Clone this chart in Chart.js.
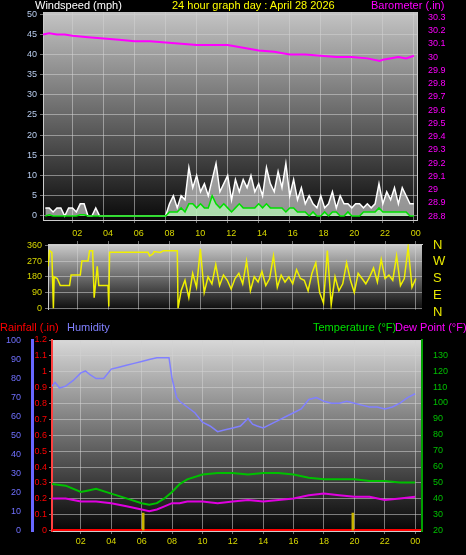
<!DOCTYPE html>
<html>
<head>
<meta charset="utf-8">
<script src="https://cdn.jsdelivr.net/npm/chart.js@4"></script>
<style>
  body { margin: 0; background: #000; width: 466px; height: 555px; overflow: hidden; position: relative; font-family: "Liberation Sans", Arial, sans-serif; }
  canvas { position: absolute; left: 0; }
  .lbl { position: absolute; font-size: 11px; white-space: nowrap; line-height: 12px; }
  .dir { position: absolute; left: 433px; font-size: 13px; color: #e8e800; }
</style>
</head>
<body>
<canvas id="top" width="466" height="240" style="top:0"></canvas>
<canvas id="mid" width="466" height="88" style="top:230px"></canvas>
<div class="lbl" style="left:35px;top:-1px;color:#fff">Windspeed (mph)</div>
<div class="lbl" style="left:172px;top:-1px;color:#ffff00">24 hour graph day : April 28 2026</div>
<div class="lbl" style="left:371px;top:-1px;color:#ff00ff">Barometer (.in)</div>
<div class="dir" style="top:237px">N</div>
<div class="dir" style="top:253px">W</div>
<div class="dir" style="top:270px">S</div>
<div class="dir" style="top:287px">E</div>
<div class="dir" style="top:304px">N</div>
<div class="lbl" style="left:0;top:321px;color:#ff0000">Rainfall (.in)</div>
<div class="lbl" style="left:67px;top:321px;color:#8080ff">Humidity</div>
<div class="lbl" style="left:313px;top:321px;color:#00e000">Temperature (°F)</div>
<div class="lbl" style="left:395px;top:321px;color:#ff00ff">Dew Point (°F)</div>
<canvas id="bot" width="466" height="225" style="top:330px"></canvas>
<script>
// ---- Daten ----
// Windböen / Mittelwind alle 15 Minuten (0.25 .. 24 h)
const gust = [2,2,1,2,2,0,2,2,1,3,3,0,0,2,0,
  0,0,0,0,0,0,0,0,0,0,0,0,0,0,0,0,0,
  3,5,2,5,4,12,7,10,6,8,5,9,13,6,8,10,4,9,6,9,7,10,6,8,5,12,8,6,11,7,13,5,9,4,7,3,5,3,2,5,2,3,6,2,5,3,3,2,3,3,2,3,2,3,8,3,6,4,7,3,7,5,3,3];
const windAvg = [0,0.3,0,0,0,0,0,0,0,0.3,0.3,0,0,0,0,
  0,0,0,0,0,0,0,0,0,0,0,0,0,0,0,0,0,
  1,1,1,2,1,3,3,2,3,2,2,5,3,2,3,2,1,2,3,2,2,2,2,3,2,3,2,2,2,2,1,2,2,1,1,1,0,1,0,0,1,0,1,1,0,0,1,0,0,0,1,1,1,1,2,1,1,1,1,1,1,1,0,0];

// Barometer
const baroHours = [0.1,0.5,1,1.5,2,3,4,5,6,7,8,9,10,11,12,13,14,15,16,17,18,19,20,21,21.8,22,23,23.5,24];
const baroVals = [30.17,30.18,30.17,30.17,30.16,30.15,30.14,30.13,30.12,30.12,30.11,30.10,30.09,30.09,30.09,30.07,30.05,30.04,30.02,30.02,30.01,30.00,30.00,29.99,29.97,29.98,30.00,29.99,30.01];

// Windrichtung
const dirHoursEarly = [0.1,0.2,0.35,0.45,0.5,0.7,0.9,1.5,1.6,2.2,2.3,2.7,2.8,3.0,3.1,3.3,3.4,4.0,4.05,4.1,6.6,6.7,6.9,7.0,7.4,7.6,8.5,8.55];
const dirValsEarly = [240,330,320,0,180,170,130,130,190,190,270,270,330,330,60,240,130,130,10,320,320,300,310,325,320,330,330,0];
// ab 08:45 alle 15 Minuten
const dirValsLate = [100,160,60,200,120,340,90,180,140,250,130,190,160,110,170,200,140,270,100,180,150,210,130,170,300,120,190,150,180,140,220,170,160,100,200,260,90,30,330,20,180,100,140,260,160,90,200,170,140,180,230,150,280,170,190,160,300,130,170,350,120,170];

// Feuchte
const humHours = [0.1,0.3,0.6,1,1.5,2,2.3,2.6,3,3.5,3.8,4,4.5,5,5.5,6,6.5,7,7.5,7.8,8,8.3,8.5,9,9.5,10,10.5,11,11.5,12,12.5,13,13.3,13.6,14,14.5,15,15.5,16,16.5,17,17.5,18,18.5,19,19.5,20,20.5,21,21.5,22,22.5,23,23.5,24];
const humVals = [76,78,75,76,79,83,84,82,80,80,83,85,86,87,88,89,90,91,91,91,80,70,68,65,62,57,55,52,53,54,55,59,56,55,54,56,58,60,62,64,69,70,68,67,67,68,67,66,65,65,64,65,67,70,72];

// Temperatur / Taupunkt
const tHours = [0.1,1,2,2.5,3,4,5,6,6.5,7,7.5,8,8.5,9,10,11,12,13,14,15,16,17,18,19,20,21,22,23,24];
const tempVals = [49,48,44,45,46,43,40,37,36,37,40,44,49,52,55,56,56,55,56,56,55,53,52,52,52,51,51,50,50];
const dewVals = [40,40,38,38,38,37,35,33,32,33,35,37,37,38,38,37,38,39,38,39,40,42,43,42,41,41,39,40,41];

// Regen
const rainHours = [0.1,24.4];
const rainVals = [0,0];
const markHours = [6.1,19.9];
const markVals = [0.11,0.11];

// ---- Hilfsfunktionen ----
const pts = (xs, ys) => ys.map((y, i) => ({ x: xs[i], y: y }));
const q = (n, start) => Array.from({ length: n }, (_, i) => start + i * 0.25);
const hourLabel = v => String(v % 24).padStart(2, "0");
const evenHours = [2,4,6,8,10,12,14,16,18,20,22,24];
const font = { family: "Liberation Sans", size: 9 };
const gridStyle = { color: "rgba(210,210,210,0.55)", lineWidth: 1, tickLength: 3 };
const dash = { borderDash: [1, 2] };

// Hintergrund-Verlauf im Plotbereich
const bgPlugin = {
  id: "bg",
  beforeDraw(chart, args, opts) {
    const { ctx, chartArea: a } = chart;
    const g = ctx.createLinearGradient(0, a.top, 0, a.bottom);
    g.addColorStop(0, opts.top);
    g.addColorStop(1, opts.bottom);
    ctx.save();
    ctx.fillStyle = g;
    ctx.fillRect(a.left, a.top, a.right - a.left, a.bottom - a.top);
    ctx.restore();
  }
};

function xScale(min, max, position, height, showLabels) {
  return {
    type: "linear", min: min, max: max, position: position, offset: false,
    afterBuildTicks: s => { s.ticks = evenHours.map(v => ({ value: v })); },
    afterFit: s => { s.height = height; },
    ticks: { display: showLabels, color: "#d8d800", font: font, callback: hourLabel, autoSkip: false, maxRotation: 0, padding: 2 },
    grid: { ...gridStyle, offset: false, drawTicks: true },
    border: { ...dash, display: true, color: "#ccc" }
  };
}

function yStep(min, max, step, width, color, position, extra) {
  return Object.assign({
    position: position, min: min, max: max,
    afterBuildTicks: s => {
      const t = [];
      for (let v = Math.ceil(min / step) * step; v <= max + 1e-9; v += step) t.push({ value: +v.toFixed(2) });
      s.ticks = t;
    },
    afterFit: s => { s.width = width; },
    ticks: { color: color, font: font, padding: 3, autoSkip: false },
    grid: { ...gridStyle },
    border: { ...dash, color: "#ccc" }
  }, extra || {});
}

const common = {
  animation: false, responsive: false,
  plugins: { legend: { display: false }, tooltip: { enabled: false } },
  elements: { point: { radius: 0 }, line: { borderWidth: 1.5, tension: 0 } }
};

// ---- Wind / Barometer ----
new Chart(document.getElementById("top"), {
  type: "line",
  data: { datasets: [
    { data: pts(q(96, 0.25), windAvg), borderColor: "#00e000", backgroundColor: "rgba(180,240,180,0.8)", fill: "origin", yAxisID: "y" },
    { data: pts(q(96, 0.25), gust), borderColor: "#ffffff", backgroundColor: "rgba(235,235,235,0.6)", fill: "origin", borderWidth: 1.5, yAxisID: "y" },
    { data: pts(baroHours, baroVals), borderColor: "#ff00ff", borderWidth: 2, yAxisID: "baro" }
  ] },
  options: { ...common,
    layout: { padding: { top: 12 } },
    plugins: { ...common.plugins, bg: { top: "#c4c4c4", bottom: "#0a0a0a" } },
    scales: {
      x: xScale(0.1, 24.2, "bottom", 20, false),
      y: yStep(-1, 50.5, 5, 43, "#b8ccee", "left", { ticks: { color: "#b8ccee", font: font, padding: 3, callback: v => v } }),
      baro: yStep(28.77, 30.34, 0.1, 49, "#ff00ff", "right", { grid: { display: false }, ticks: { color: "#ff00ff", font: font, padding: 3, callback: v => +v.toFixed(1) } })
    }
  },
  plugins: [bgPlugin]
});

// ---- Windrichtung ----
new Chart(document.getElementById("mid"), {
  type: "line",
  data: { datasets: [
    { data: pts(dirHoursEarly, dirValsEarly).concat(pts(q(62, 8.75), dirValsLate)), borderColor: "#f0f000", borderWidth: 1.5 }
  ] },
  options: { ...common,
    layout: { padding: { bottom: 6 } },
    plugins: { ...common.plugins, bg: { top: "#cccccc", bottom: "#0c0c0c" } },
    scales: {
      x: xScale(0.1, 24.4, "top", 14, true),
      y: yStep(-8, 368, 90, 48, "#d8d800", "left"),
      r: { position: "right", display: true, afterFit: s => { s.width = 44; }, ticks: { display: false }, grid: { display: false }, border: { display: false } }
    }
  },
  plugins: [bgPlugin]
});

// ---- Regen / Feuchte / Temperatur ----
new Chart(document.getElementById("bot"), {
  type: "line",
  data: { datasets: [
    { type: "bar", data: pts(markHours, markVals), backgroundColor: "#c8b400", barThickness: 2, yAxisID: "rain" },
    { data: pts(humHours, humVals), borderColor: "#8080ff", yAxisID: "hum" },
    { data: pts(tHours, tempVals), borderColor: "#00c000", borderWidth: 2, yAxisID: "temp" },
    { data: pts(tHours, dewVals), borderColor: "#e000e0", borderWidth: 2, yAxisID: "temp" },
    { data: pts(rainHours, rainVals), borderColor: "#ff0000", borderWidth: 3, yAxisID: "rain" }
  ] },
  options: { ...common,
    layout: { padding: { top: 10 } },
    plugins: { ...common.plugins, bg: { top: "#d8d8d8", bottom: "#050505" } },
    scales: {
      x: xScale(0.1, 24.45, "bottom", 24, true),
      hum: yStep(-0.3, 100.3, 10, 32, "#7070ff", "left", { weight: 1, grid: { display: false }, border: { display: true, color: "#6868ff", width: 3 } }),
      rain: yStep(-0.003, 1.2, 0.1, 20, "#ff0000", "left", { weight: 0, ticks: { color: "#ff0000", font: font, padding: 2, callback: v => +v.toFixed(1) }, grid: { ...gridStyle }, border: { borderDash: [3, 2], display: true, color: "#ff4040", width: 2 } }),
      temp: yStep(19.5, 139.6, 10, 44, "#00c000", "right", { grid: { display: false }, ticks: { color: "#00c000", font: font, padding: 3, callback: v => (v <= 130 ? v : "") }, border: { display: true, color: "#00a000", width: 2 } })
    }
  },
  plugins: [bgPlugin]
});
</script>
</body>
</html>
